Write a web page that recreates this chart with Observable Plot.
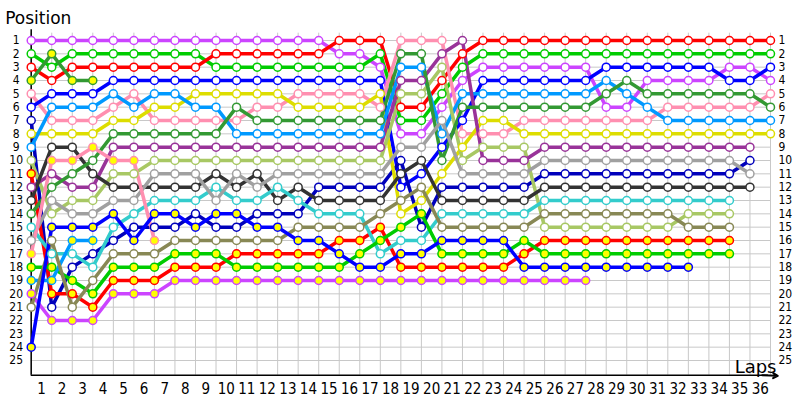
<!DOCTYPE html>
<html><head><meta charset="utf-8">
<script src="https://cdn.jsdelivr.net/npm/d3@7"></script>
<script src="https://cdn.jsdelivr.net/npm/@observablehq/plot@0.6"></script>
<style>body{margin:0;background:#fff}#chart{width:800px;height:400px}</style>
</head><body><div id="chart"></div>
<script>
const laps = d3.range(0, 37);
const positions = d3.range(1, 26);
const lapLabels = d3.range(1, 37);

// positions per lap (lap 0 = grid), series end at retirement / finish
const violet     = [1,1,1,1,1, 1,1,1,1,1, 1,1,1,1,1, 2,2,3,8,8, 6,4,3,3,3, 3,3,3,6,6, 4,4,4,4,3, 3,4];
const green      = [2,3,2,2,2, 2,2,2,2,3, 3,3,3,3,3, 3,3,2,7,7, 5,3,2,2,2, 2,2,2,2,2, 2,2,2,2,2, 2,2];
const red        = [3,4,3,3,3, 3,3,3,3,2, 2,2,2,2,2, 1,1,1,6,6, 4,2,1,1,1, 1,1,1,1,1, 1,1,1,1,1, 1,1];
const dkgreenY   = [4,2,4,4];
const pink       = [5,7,7,7,6, 5,7,7,7,7, 7,6,6,5,5, 5,5,6,1,1, 1,8,8,8,7, 7,7,7,7,7, 7,6,6,6,6, 6,5];
const blue       = [6,5,5,5,4, 4,4,4,4,4, 4,4,4,4,4, 4,4,4,12,11, 9,7,4,4,4, 4,4,4,3,3, 3,3,3,3,4, 4,3];
const navy       = [7,21,18,17,16, 15,15,15,14,15, 15,14,14,14,12, 12,12,12,10,15, 12,12,12,12,12, 11,11,11,11,11, 11,11,11,11,11, 10];
const yellow     = [8,8,8,8,7, 7,6,6,5,5, 5,5,5,6,6, 6,6,5,14,13, 11,9,7,7,8, 8,8,8,8,8, 8,8,8,8,8, 8,8];
const lightblue  = [9,6,6,6,5, 6,5,5,6,6, 8,8,8,8,8, 8,8,8,3,3, 8,5,5,5,5, 5,5,5,4,5, 6,7,7,7,7, 7,7];
const lightgreen = [10,14,13,13,11, 11,10,10,10,10, 10,10,10,10,10, 10,10,10,5,5, 3,10,9,9,9, 15,15,15,15,15, 15,15,14,14,14];
const redY       = [11,20,20,21,19, 19,19,18,18,18, 17,17,17,17,17, 16,16,15,18,18, 18,18,18,18,17, 16,16,16,16,16, 16,16,16,16,16];
const dkpurple   = [12,11,12,12,9, 9,9,9,9,9, 9,9,9,9,9, 9,9,9,4,4, 2,1,10,10,10, 9,9,9,9,9, 9,9,9,9,9, 9];
const darkgray   = [13,9,9,11,12, 12,12,12,12,11, 12,11,13,12,13, 13,13,13,11,10, 13,13,13,13,13, 12,12,12,12,12, 12,12,12,12,12, 12];
const dkgreen    = [14,12,11,10,8, 8,8,8,8,8, 6,7,7,7,7, 7,7,7,2,2, 10,6,6,6,6, 6,6,6,5,4, 5,5,5,5,5, 5,6];
const cyan       = [15,17,17,18,15, 14,13,13,13,12, 13,13,12,13,14, 14,14,17,16,16, 14,14,14,14,14, 13,13,13,13,13, 13,13,13,13,13];
const gray       = [16,13,14,14,13, 13,11,11,11,13, 11,12,11,11,11, 11,11,11,9,9, 7,11,11,11,11, 10,10,10,10,10, 10,10,10,10,10, 11];
const pinkY      = [17,10,10,9,10, 10,16];
const greenY     = [18,18,19,20,18, 18,18,17,17,17, 18,18,18,18,18, 18,17,16,15,14, 17,17,17,17,16, 17,17,17,17,17, 17,17,17,17,17];
const lightblueY = [19,19,16,16];
const purpleY    = [20,22,22,22,20, 20,20,19,19,19, 19,19,19,19,19, 19,19,19,19,19, 19,19,19,19,19, 19,19,19];
const olive      = [21,16,21,19,17, 17,17,16,16,16, 16,16,16,15,15, 15,15,14,13,12, 15,15,15,15,15, 14,14,14,14,14, 14,14,15,15,15];
const blueY      = [24,15,15,15,14, 16,14,14,15,14, 14,15,15,16,16, 17,18,18,17,17, 16,16,16,16,18, 18,18,18,18,18, 18,18,18];

const driverNames  = ["violet","green","red","dkgreenY","pink","blue","navy","yellow","lightblue","lightgreen","redY","dkpurple","darkgray","dkgreen","cyan","gray","pinkY","greenY","lightblueY","purpleY","olive","blueY"];
const driverSeries = [violet,green,red,dkgreenY,pink,blue,navy,yellow,lightblue,lightgreen,redY,dkpurple,darkgray,dkgreen,cyan,gray,pinkY,greenY,lightblueY,purpleY,olive,blueY];
const driverColors = ["#cc44ff","#00cc00","#ff0000","#339933","#ff8fb0","#0000ff","#0000bb","#dddd00","#0099ff","#a8c864","#ff0000","#993399","#333333","#339933","#33cccc","#a0a0a0","#ff8fb0","#00cc00","#0099ff","#cc44ff","#888855","#0000ff"];
const driverFills  = ["#fff","#fff","#fff","#ffff00","#fff","#fff","#fff","#fff","#fff","#fff","#ffff00","#fff","#fff","#fff","#fff","#fff","#ffff00","#ffff00","#ffff00","#ffff00","#fff","#ffff00"];

const rows = [];
driverNames.forEach((name, i) => {
  driverSeries[i].forEach((p, lap) => {
    if (p != null) rows.push({driver: name, lap, pos: p, color: driverColors[i], fill: driverFills[i]});
  });
});

const AXIS_Y = 26.1;
const font = "'DejaVu Sans Condensed','DejaVu Sans',sans-serif";

const chart = Plot.plot({
  width: 800, height: 400,
  marginLeft: 0, marginRight: 0, marginTop: 0, marginBottom: 0,
  x: {domain: [0, 36], range: [30.7, 770], axis: null},
  y: {domain: [1, 25], range: [40, 360], axis: null},
  color: {type: "identity"},
  style: {fontFamily: font, background: "#fff", overflow: "visible"},
  marks: [
    Plot.ruleX(laps, {x: d => d, y1: 0.45, y2: AXIS_Y, stroke: "#c8c8c8", strokeWidth: 1}),
    Plot.ruleY(positions, {y: d => d, x1: 0, x2: 36, stroke: "#c8c8c8", strokeWidth: 1}),
    Plot.ruleX([0], {x: d => d, y1: 0.2, y2: AXIS_Y, stroke: "#000", strokeWidth: 1.5}),
    Plot.ruleY([AXIS_Y], {y: d => d, x1: 0, x2: 35.9, stroke: "#000", strokeWidth: 1.5}),
    Plot.arrow([0], {x1: 35.6, x2: 36.35, y1: AXIS_Y, y2: AXIS_Y + 0.05, stroke: "#000", strokeWidth: 2, headLength: 9}),
    Plot.line(rows, {x: "lap", y: "pos", z: "driver", stroke: "color", strokeWidth: 3.5, strokeLinejoin: "round"}),
    Plot.dot(rows, {x: "lap", y: "pos", r: 4, stroke: "color", fill: "fill", strokeWidth: 1.5}),
    Plot.text(positions, {x: 0, y: d => d, text: d => String(d), dx: -15, textAnchor: "middle", fontSize: 12, fill: "#000"}),
    Plot.text(positions, {x: 36, y: d => d, text: d => String(d), dx: 8, textAnchor: "start", fontSize: 12, fill: "#000"}),
    Plot.text(lapLabels, {x: d => d - 0.5, y: AXIS_Y, text: d => String(d), dy: 14, textAnchor: "middle", fontSize: 15, fill: "#000"}),
    Plot.text(["Position"], {x: 0, y: -0.65, text: d => d, dx: -26, textAnchor: "start", fontSize: 17, fontFamily: "'DejaVu Sans',sans-serif", fill: "#000"}),
    Plot.text(["Laps"], {x: 36, y: AXIS_Y, text: d => d, dx: 6, dy: -8, textAnchor: "end", fontSize: 18, fontFamily: "'DejaVu Sans',sans-serif", fill: "#000"})
  ]
});
document.getElementById("chart").appendChild(chart);
</script>
</body></html>
